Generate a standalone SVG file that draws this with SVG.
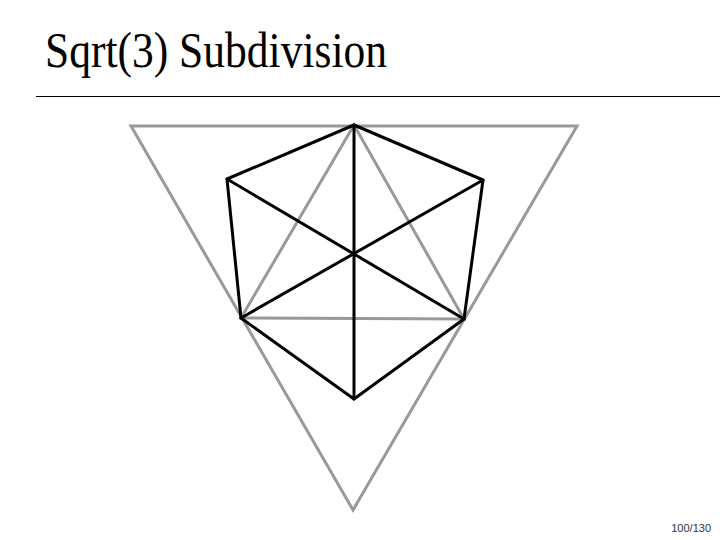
<svg xmlns="http://www.w3.org/2000/svg" width="720" height="540" viewBox="0 0 720 540">
<style>
.g{stroke:#999999;stroke-width:3;fill:none;stroke-linejoin:miter}
.k{stroke:#000000;stroke-width:3;fill:none;stroke-linecap:round;stroke-linejoin:round}
.title{font-family:"Liberation Serif","Times New Roman",serif;font-size:50px;fill:#000}
.pg{font-family:"Liberation Sans",Arial,sans-serif;font-size:11px;fill:#333}
</style>
<rect width="720" height="540" fill="#fff"/>
<text class="title" x="45" y="67" textLength="342" lengthAdjust="spacingAndGlyphs">Sqrt(3) Subdivision</text>
<line x1="36" y1="96.5" x2="720" y2="96.5" stroke="#000" stroke-width="1.2"/>
<g id="connectors">
<g id="coarse">
<polygon class="g" points="131,126 577,126 353,510"/>
<polygon class="g" points="354,125 241,318 464,319"/>
</g>
<g id="fine">
<polygon class="k" points="354,125 483,180 464,319 354,399 241,318 227,179"/>
<line class="k" x1="354" y1="125" x2="354" y2="399"/>
<line class="k" x1="227" y1="179" x2="464" y2="319"/>
<line class="k" x1="483" y1="180" x2="241" y2="318"/>
</g>
</g>
<text class="pg" x="711" y="532" text-anchor="end">100/130</text>
</svg>
